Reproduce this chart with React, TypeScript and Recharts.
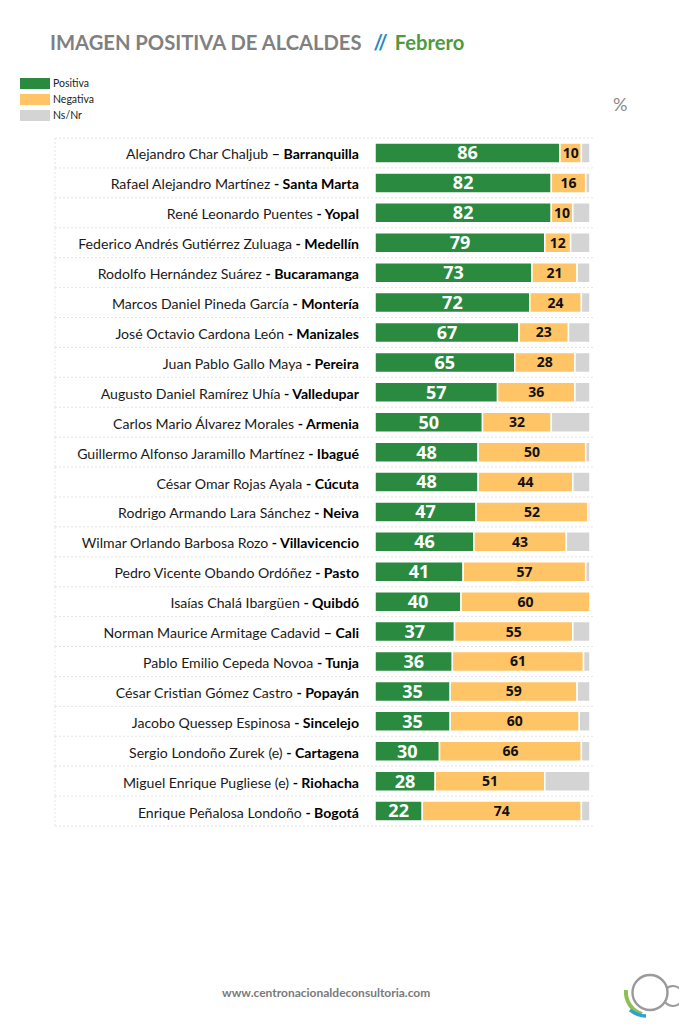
import React from "react";
import { BarChart, Bar, XAxis, YAxis, LabelList } from "recharts";

const names = [
  "Alejandro Char Chaljub",
  "Rafael Alejandro Martínez",
  "René Leonardo Puentes",
  "Federico Andrés Gutiérrez Zuluaga",
  "Rodolfo Hernández Suárez",
  "Marcos Daniel Pineda García",
  "José Octavio Cardona León",
  "Juan Pablo Gallo Maya",
  "Augusto Daniel Ramírez Uhía",
  "Carlos Mario Álvarez Morales",
  "Guillermo Alfonso Jaramillo Martínez",
  "César Omar Rojas Ayala",
  "Rodrigo Armando Lara Sánchez",
  "Wilmar Orlando Barbosa Rozo",
  "Pedro Vicente Obando Ordóñez",
  "Isaías Chalá Ibargüen",
  "Norman Maurice Armitage Cadavid",
  "Pablo Emilio Cepeda Novoa",
  "César Cristian Gómez Castro",
  "Jacobo Quessep Espinosa",
  "Sergio Londoño Zurek (e)",
  "Miguel Enrique Pugliese (e)",
  "Enrique Peñalosa Londoño",
];

const separators = [
  "–", "-", "-", "-", "-", "-", "-", "-", "-", "-", "-", "-",
  "-", "-", "-", "-", "–", "-", "-", "-", "-", "-", "-",
];

const cities = [
  "Barranquilla", "Santa Marta", "Yopal", "Medellín", "Bucaramanga",
  "Montería", "Manizales", "Pereira", "Valledupar", "Armenia", "Ibagué",
  "Cúcuta", "Neiva", "Villavicencio", "Pasto", "Quibdó", "Cali", "Tunja",
  "Popayán", "Sincelejo", "Cartagena", "Riohacha", "Bogotá",
];

const positiva = [86, 82, 82, 79, 73, 72, 67, 65, 57, 50, 48, 48, 47, 46, 41, 40, 37, 36, 35, 35, 30, 28, 22];
const negativa = [10, 16, 10, 12, 21, 24, 23, 28, 36, 32, 50, 44, 52, 43, 57, 60, 55, 61, 59, 60, 66, 51, 74];
const nsnr = [4, 2, 8, 9, 6, 4, 10, 7, 7, 18, 2, 8, 1, 11, 2, 0, 8, 3, 6, 5, 4, 21, 4];

const seriesNames = ["Positiva", "Negativa", "Ns/Nr"];

const GREEN = "#2a8a3f";
const ORANGE = "#ffc466";
const GRAY = "#d4d4d4";
const seriesColors = [GREEN, ORANGE, GRAY];

const data = names.map((n, i) => ({
  key: `${n} ${separators[i]} ${cities[i]}`,
  pos: positiva[i],
  neg: negativa[i],
  ns: nsnr[i],
}));

const CW = 679;
const CH = 1024;
const MT = 138;
const MB = 198;
const ML = 55;
const MR = 89;
const N = data.length;
const BAND = (CH - MT - MB) / N;
const GRID_LEFT = 55;
const GRID_RIGHT = 593;
const GRID_COLOR = "#e4e4e4";

const NameTick = (props: any) => {
  const { x, y, index } = props;
  const top = y - BAND / 2;
  return (
    <g>
      <line x1={GRID_LEFT} x2={GRID_RIGHT} y1={top} y2={top} stroke={GRID_COLOR} strokeDasharray="2 2" />
      {index === N - 1 && (
        <line x1={GRID_LEFT} x2={GRID_RIGHT} y1={top + BAND} y2={top + BAND} stroke={GRID_COLOR} strokeDasharray="2 2" />
      )}
      <line x1={GRID_LEFT} x2={GRID_LEFT} y1={top} y2={top + BAND} stroke={GRID_COLOR} strokeDasharray="2 2" />
      <text x={x} y={y + 2.5} textAnchor="end" dominantBaseline="middle" fontFamily="Lato" fontSize={14.1} fill="#1a1a1a">
        <tspan>{names[index]} </tspan>
        <tspan fontWeight={700} fill="#000">{separators[index]} {cities[index]}</tspan>
      </text>
    </g>
  );
};

export default function App() {
  return (
    <div style={{ position: "absolute", top: 0, left: 0, width: CW, height: CH, background: "#fff" }}>
      <div
        style={{
          position: "absolute",
          top: 30,
          left: 50,
          fontFamily: "Lato",
          fontWeight: 700,
          fontSize: 20.2,
          whiteSpace: "nowrap",
          zIndex: 2,
        }}
      >
        <span style={{ color: "#808080" }}>IMAGEN POSITIVA DE ALCALDES</span>
        <span style={{ color: "#1f86c6", marginLeft: 12 }}>//</span>
        <span style={{ color: "#4e9a3c", marginLeft: 7 }}>Febrero</span>
      </div>
      <div
        style={{
          position: "absolute",
          top: 75,
          left: 20,
          fontFamily: "Lato",
          fontSize: 10.5,
          color: "#222",
          zIndex: 2,
        }}
      >
        {seriesNames.map((s, i) => (
          <div key={s} style={{ display: "flex", alignItems: "center", height: 16 }}>
            <div style={{ width: 30, height: 11, background: seriesColors[i], marginRight: 3 }} />
            <span>{s}</span>
          </div>
        ))}
      </div>
      <div
        style={{
          position: "absolute",
          top: 93,
          left: 613,
          fontFamily: "Lato",
          fontWeight: 400,
          fontSize: 18,
          color: "#8a8a8a",
          zIndex: 2,
        }}
      >
        %
      </div>
      <div style={{ position: "absolute", top: 0, left: 0 }}>
        <BarChart
          width={CW}
          height={CH}
          data={data}
          layout="vertical"
          margin={{ top: MT, bottom: MB, left: ML, right: MR }}
          barSize={20}
        >
          <XAxis type="number" domain={[0, 100]} hide />
          <YAxis
            type="category"
            dataKey="key"
            width={320}
            tickLine={false}
            axisLine={false}
            tickSize={0}
            tickMargin={16}
            tick={<NameTick />}
            interval={0}
          />
          <Bar dataKey="pos" name={seriesNames[0]} stackId="a" fill={GREEN} stroke="#fff" strokeWidth={1.5} isAnimationActive={false}>
            <LabelList dataKey="pos" position="center" fill="#fff" fontFamily="Open Sans" fontWeight={700} fontSize={18} />
          </Bar>
          <Bar dataKey="neg" name={seriesNames[1]} stackId="a" fill={ORANGE} stroke="#fff" strokeWidth={1.5} isAnimationActive={false}>
            <LabelList dataKey="neg" position="center" fill="#111" fontFamily="Open Sans" fontWeight={700} fontSize={14} />
          </Bar>
          <Bar dataKey="ns" name={seriesNames[2]} stackId="a" fill={GRAY} stroke="#fff" strokeWidth={1.5} isAnimationActive={false} />
        </BarChart>
      </div>
      <div
        style={{
          position: "absolute",
          top: 985,
          left: 222,
          fontFamily: "Lato",
          fontWeight: 700,
          fontSize: 12,
          color: "#7a7a7a",
          zIndex: 2,
        }}
      >
        www.centronacionaldeconsultoria.com
      </div>
      <svg style={{ position: "absolute", top: 960, left: 600 }} width={79} height={64}>
        <path d="M 26 30 A 23 23 0 0 0 42 54" fill="none" stroke="#8cc152" strokeWidth={4} />
        <path d="M 30 50 A 26 26 0 0 0 46 56" fill="none" stroke="#2d9fd9" strokeWidth={3.5} />
        <circle cx={73} cy={36} r={10} fill="#fff" stroke="#9a9a9a" strokeWidth={2} />
        <circle cx={50} cy={32.5} r={17.5} fill="#fff" stroke="#9a9a9a" strokeWidth={2.4} />
      </svg>
    </div>
  );
}
